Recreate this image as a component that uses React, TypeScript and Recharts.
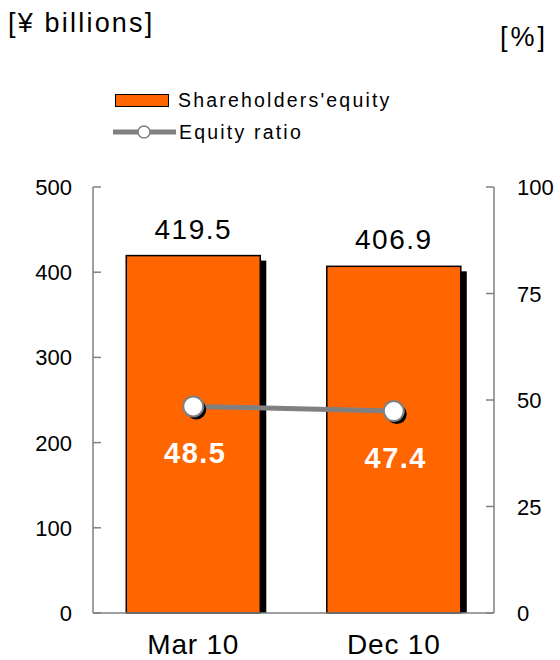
import { ComposedChart, Bar, Line, XAxis, YAxis, LabelList } from "recharts";

const periods = ["Mar 10", "Dec 10"];
const equity = [419.5, 406.9];
const equityRatio = [48.5, 47.4];
const leftTicks = [0, 100, 200, 300, 400, 500];
const rightTicks = [0, 25, 50, 75, 100];

const data = periods.map((period, i) => ({ period, equity: equity[i], ratio: equityRatio[i] }));

const FONT = "'Liberation Sans', Arial, sans-serif";
const AXIS = "#808080";
const ORANGE = "#FF6600";

function ShadowBar(props: any) {
  const { x, y, width, height } = props;
  return (
    <g>
      <rect x={x + 6} y={y + 5} width={width} height={height - 5} fill="#000" />
      <rect x={x} y={y} width={width} height={height} fill={ORANGE} stroke="#000" strokeWidth={1.5} />
    </g>
  );
}

function ShadowDot(props: any) {
  const { cx, cy } = props;
  return (
    <g>
      <circle cx={cx + 3} cy={cy + 3} r={10} fill="#000" />
      <circle cx={cx} cy={cy} r={10} fill="#fff" stroke={AXIS} strokeWidth={2} />
    </g>
  );
}

function LeftTick(props: any) {
  const { x, y, payload } = props;
  return (
    <g>
      <line x1={x + 21} x2={x + 29} y1={y} y2={y} stroke={AXIS} strokeWidth={1.5} />
      <text x={x} y={y} dy={8} textAnchor="end" fontSize={22} fontFamily={FONT} fill="#000">
        {payload.value}
      </text>
    </g>
  );
}

function RightTick(props: any) {
  const { x, y, payload } = props;
  return (
    <g>
      <line x1={x - 23} x2={x - 31} y1={y} y2={y} stroke={AXIS} strokeWidth={1.5} />
      <text x={x} y={y} dy={8} textAnchor="start" fontSize={22} fontFamily={FONT} fill="#000">
        {payload.value}
      </text>
    </g>
  );
}

function RatioLabel(props: any) {
  const { x, y, value } = props;
  return (
    <text x={x + 2} y={y + 57} textAnchor="middle" fontSize={29} fontWeight="bold" fontFamily={FONT} fill="#fff" letterSpacing={1.5}>
      {value}
    </text>
  );
}

export default function App() {
  return (
    <div style={{ position: "absolute", left: 0, top: 0, width: 560, height: 660, background: "#fff", fontFamily: FONT }}>
      <div style={{ position: "absolute", left: 8, top: 8, fontSize: 27, letterSpacing: 2.2 }}>[¥ billions]</div>
      <div style={{ position: "absolute", left: 500, top: 22, fontSize: 27, letterSpacing: 3 }}>[%]</div>
      <div style={{ position: "absolute", left: 113, top: 88, fontSize: 19.5, letterSpacing: 2.2 }}>
        <div style={{ display: "flex", alignItems: "center", height: 24 }}>
          <div style={{ width: 54, height: 13, marginLeft: 2, background: ORANGE, border: "1.5px solid #000", boxSizing: "border-box" }} />
          <span style={{ marginLeft: 9 }}>Shareholders'equity</span>
        </div>
        <div style={{ display: "flex", alignItems: "center", height: 28, marginTop: 6 }}>
          <svg width={63} height={16}>
            <line x1={0} x2={63} y1={8} y2={8} stroke={AXIS} strokeWidth={5} />
            <circle cx={31} cy={8} r={6} fill="#fff" stroke={AXIS} strokeWidth={1.5} />
          </svg>
          <span style={{ marginLeft: 3 }}>Equity ratio</span>
        </div>
      </div>
      <ComposedChart
        width={560}
        height={660}
        data={data}
        margin={{ top: 187, right: 0, bottom: 0, left: 0 }}
        barCategoryGap="16.6%"
        style={{ position: "absolute", left: 0, top: 0 }}
      >
        <XAxis
          dataKey="period"
          height={47}
          tickLine={false}
          tickSize={0}
          tickMargin={21}
          axisLine={{ stroke: AXIS, strokeWidth: 1.5 }}
          tick={{ fontSize: 28, fontFamily: FONT, fill: "#000", letterSpacing: 0.8 }}
        />
        <YAxis
          yAxisId="left"
          width={93}
          domain={[0, 500]}
          ticks={leftTicks}
          tickLine={false}
          tickSize={0}
          tickMargin={21}
          axisLine={{ stroke: AXIS, strokeWidth: 1.5 }}
          tick={<LeftTick />}
        />
        <YAxis
          yAxisId="right"
          orientation="right"
          width={66}
          domain={[0, 100]}
          ticks={rightTicks}
          tickLine={false}
          tickSize={0}
          tickMargin={23}
          axisLine={{ stroke: AXIS, strokeWidth: 1.5 }}
          tick={<RightTick />}
        />
        <Bar yAxisId="left" dataKey="equity" shape={<ShadowBar />} isAnimationActive={false}>
          <LabelList dataKey="equity" position="top" offset={17} fontSize={28} fontFamily={FONT} fill="#000" letterSpacing={1.5} />
        </Bar>
        <Line
          yAxisId="right"
          dataKey="ratio"
          stroke={AXIS}
          strokeWidth={5}
          dot={<ShadowDot />}
          activeDot={false}
          isAnimationActive={false}
        >
          <LabelList dataKey="ratio" content={<RatioLabel />} />
        </Line>
      </ComposedChart>
    </div>
  );
}
